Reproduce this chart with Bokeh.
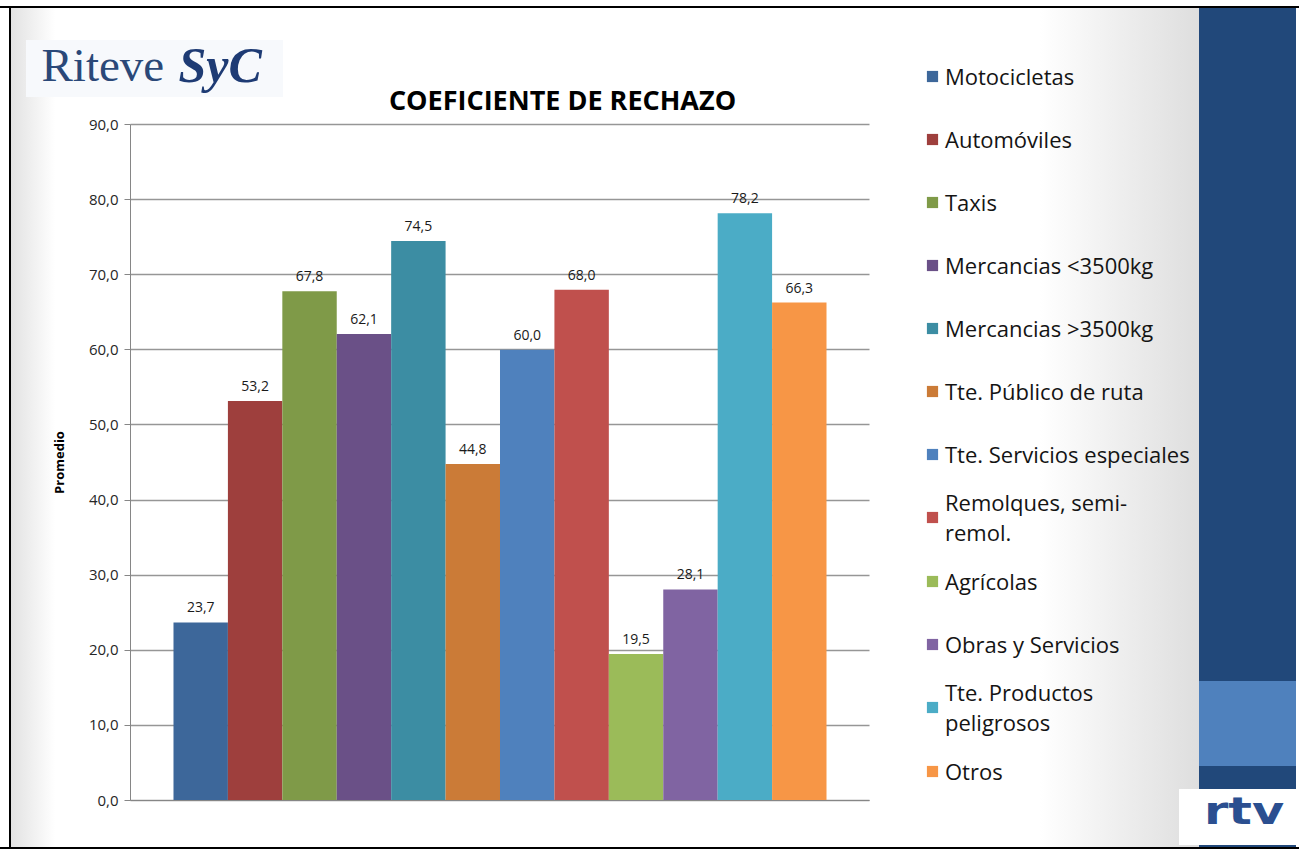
from bokeh.plotting import figure
from bokeh.layouts import row
from bokeh.models import (ColumnDataSource, Range1d, FixedTicker, CustomJSTickFormatter,
                          Legend, LegendItem, LabelSet, Label, Div, Grid)
from bokeh.core.properties import value
from bokeh.embed import file_html
from bokeh.resources import INLINE

# ---------------- data ----------------
categories = ["Motocicletas", "Automóviles", "Taxis", "Mercancias <3500kg",
              "Mercancias >3500kg", "Tte. Público de ruta", "Tte. Servicios especiales",
              "Remolques, semi-remol.", "Agrícolas", "Obras y Servicios",
              "Tte. Productos peligrosos", "Otros"]
legend_labels = ["Motocicletas", "Automóviles", "Taxis", "Mercancias <3500kg",
                 "Mercancias >3500kg", "Tte. Público de ruta", "Tte. Servicios especiales",
                 "Remolques, semi-\nremol.", "Agrícolas", "Obras y Servicios",
                 "Tte. Productos\npeligrosos", "Otros"]
values = [23.7, 53.2, 67.8, 62.1, 74.5, 44.8, 60.0, 68.0, 19.5, 28.1, 78.2, 66.3]
colors = ["#3D679A", "#9E3F3D", "#7F9A48", "#6A5087", "#3C8DA3", "#CB7B37",
          "#4F81BD", "#C0504D", "#9BBB59", "#8064A2", "#4BACC6", "#F79646"]
y_ticks = [0, 10, 20, 30, 40, 50, 60, 70, 80, 90]
title_text = "COEFICIENTE DE RECHAZO"
y_label = "Promedio"
logo_a, logo_b = "Riteve", "SyC"
logo2_text = "rtv"

value_labels = [f"{v:.1f}".replace(".", ",") for v in values]

# ---------------- layout geometry (pixels) ----------------
W_MAIN, W_BAND, H = 1199, 100, 850
PL, PR, PT, PB = 130, 869, 124, 800          # plot-area box inside the canvas
gap = 0.79                                   # empty space each side, in bar widths
n = len(values)
x_lo, x_hi = -0.5 - gap, n - 0.5 + gap
y_lo, y_hi = 0, 90
kx = (PR - PL) / (x_hi - x_lo)
ky = (PB - PT) / (y_hi - y_lo)
x_range = Range1d(x_lo - PL / kx, x_hi + (W_MAIN - PR) / kx)
y_range = Range1d(y_lo - (H - PB) / ky, y_hi + PT / ky)

bg_layers = ", ".join([
    "linear-gradient(to bottom, #ffffff 0px, #ffffff 6px, #000000 6px, #000000 8px, rgba(0,0,0,0) 8px)",
    "linear-gradient(to top, #ffffff 0px, #ffffff 1px, #000000 1px, #000000 3px, rgba(0,0,0,0) 3px)",
    "linear-gradient(to right, #ffffff 0px, #ffffff 9px, #000000 9px, #000000 11px, rgba(0,0,0,0) 11px)",
    "linear-gradient(#ffffff, #ffffff) 1179px 789px / 20px 56px no-repeat",
    "linear-gradient(#f7f9fc, #f7f9fc) 26px 40px / 257px 57px no-repeat",
    "linear-gradient(to right, #e2e2e2 11px, #ffffff 55px, #ffffff 1040px, #dedede 1199px)",
])
p = figure(width=W_MAIN, height=H, output_backend="svg", toolbar_location=None,
           x_range=x_range, y_range=y_range, min_border=0,
           styles={"background": bg_layers}, margin=0)
p.title = None
p.background_fill_alpha = 0
p.border_fill_alpha = 0
p.outline_line_color = None

# ---------------- grid ----------------
p.xgrid.grid_line_color = None
if "cross_bounds" in Grid.properties():
    p.ygrid.ticker = FixedTicker(ticks=y_ticks)
    p.ygrid.bounds = (y_lo - 1, y_hi + 1)
    p.ygrid.cross_bounds = (x_lo, x_hi)
    p.ygrid.grid_line_color = "#969696"
    p.ygrid.grid_line_width = 1.5
else:
    p.ygrid.grid_line_color = None
    gy = y_ticks[1:]
    p.segment(x0=[x_lo] * len(gy), x1=[x_hi] * len(gy), y0=gy, y1=gy,
              line_color="#969696", line_width=1.5)

# ---------------- bars ----------------
src = ColumnDataSource(dict(x=list(range(n)), top=values, color=colors,
                            cat=categories, lab=value_labels))
r = p.vbar(x="x", top="top", bottom=0, width=1.0, fill_color="color",
           line_color=None, source=src)

p.add_layout(LabelSet(x="x", y="top", text="lab", source=src, y_offset=10,
                      text_align="center", text_baseline="alphabetic",
                      text_font=value("Open Sans"), text_font_size=value("14px"),
                      text_color="#1a1a1a"))

# ---------------- axes ----------------
p.yaxis.fixed_location = x_lo
p.yaxis.bounds = (y_lo, y_hi)
p.yaxis.ticker = FixedTicker(ticks=y_ticks)
p.yaxis.formatter = CustomJSTickFormatter(code="return tick.toFixed(1).replace('.', ',');")
p.yaxis.major_label_text_font = "Open Sans"
p.yaxis.major_label_text_font_size = "15px"
p.yaxis.major_label_text_color = "#262626"
p.yaxis.major_tick_out = 6
p.yaxis.major_tick_in = 0
p.yaxis.minor_tick_line_color = None
p.yaxis.major_tick_line_color = "#868686"
p.yaxis.axis_line_color = "#868686"
p.yaxis.major_label_standoff = 6
p.yaxis.axis_label = y_label
p.yaxis.axis_label_text_font = "Open Sans"
p.yaxis.axis_label_text_font_size = "13px"
p.yaxis.axis_label_text_font_style = "bold"
p.yaxis.axis_label_text_color = "#000000"
p.yaxis.axis_label_standoff = 18

p.xaxis.fixed_location = 0
p.xaxis.bounds = (x_lo, x_hi)
p.xaxis.ticker = FixedTicker(ticks=[])
p.xaxis.major_tick_line_color = None
p.xaxis.minor_tick_line_color = None
p.xaxis.axis_line_color = "#868686"

# ---------------- title and logo ----------------
p.add_layout(Label(x=562, y=99, x_units="canvas", y_units="canvas", text=title_text,
                   text_align="center", text_baseline="alphabetic",
                   text_font="Open Sans", text_font_size="27px", text_font_style="bold",
                   text_color="#000000"))
p.add_layout(Label(x=41, y=64, x_units="canvas", y_units="canvas", text=logo_a,
                   text_baseline="alphabetic", text_font="Liberation Serif",
                   text_font_size="47px", text_color="#2A4878"))
p.add_layout(Label(x=178, y=64, x_units="canvas", y_units="canvas", text=logo_b,
                   text_baseline="alphabetic", text_font="Liberation Serif",
                   text_font_size="50px", text_font_style="bold italic",
                   text_color="#1E3B74"))

# ---------------- legend ----------------
items = [LegendItem(label=legend_labels[i], renderers=[r], index=i) for i in range(n)]
legend = Legend(items=items, location=(925, 50), orientation="vertical",
                glyph_width=14, glyph_height=14, label_height=59, spacing=4,
                label_standoff=6, padding=0, margin=0,
                label_text_font="Open Sans", label_text_font_size="22px",
                label_text_color="#141414",
                background_fill_alpha=0, border_line_alpha=0)
p.add_layout(legend, "center")

# ---------------- right blue band with rtv logo ----------------
band_html = (
    '<div style="position:relative;width:100px;height:850px;background:#ffffff;overflow:hidden;">'
    '<div style="position:absolute;left:0;top:6px;width:100px;height:2px;background:#000000;"></div>'
    '<div style="position:absolute;left:0;top:8px;width:97px;height:839px;background:#21487A;"></div>'
    '<div style="position:absolute;left:0;top:681px;width:97px;height:85px;background:#4F81BD;"></div>'
    '<div style="position:absolute;left:0;top:789px;width:97px;height:56px;background:#ffffff;"></div>'
    '<div style="position:absolute;left:0;top:847px;width:100px;height:2px;background:#000000;"></div>'
    '<div style="position:absolute;left:0;top:786px;width:90px;height:50px;'
    "font-family:'DejaVu Sans';font-weight:bold;font-size:38px;line-height:50px;"
    'color:#2B4F90;text-align:center;transform:scaleX(1.3);transform-origin:45px 0;">'
    + logo2_text + '</div>'
    '</div>'
)
band = Div(text=band_html, width=W_BAND, height=H, margin=0)

layout = row(p, band, spacing=0)

open("out.html", "w").write(file_html(layout, INLINE))
